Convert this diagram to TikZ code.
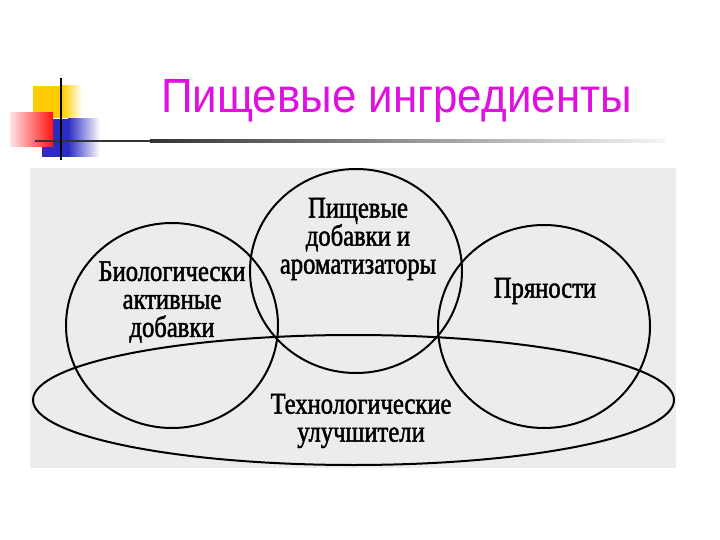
\documentclass[tikz,border=0pt]{standalone}
\usepackage{fontspec}
\setmainfont{Liberation Sans}
\newfontfamily\titlefont[FakeStretch=0.915]{Liberation Sans}
\newfontfamily\scanfont[FakeStretch=0.82,FakeBold=1.6]{Liberation Serif}
\usetikzlibrary{backgrounds}
\definecolor{titlemagenta}{RGB}{224,16,224}
\definecolor{decoyellow}{RGB}{255,204,0}
\definecolor{decored}{RGB}{255,20,20}
\definecolor{decoblue}{RGB}{44,44,196}
\definecolor{scangray}{RGB}{236,236,236}
\tikzset{
  venn/.style={line width=2pt},
  scanlabel/.style={font=\scanfont\fontsize{30}{28}\selectfont, align=center, inner sep=0pt},
}

\begin{document}
\begin{tikzpicture}[x=1pt,y=-1pt]
\useasboundingbox[fill=white] (0,0) rectangle (720,540);
% corner decoration
\fill[decoyellow] (33,86) rectangle (62,118);
\shade[left color=decoyellow,right color=white] (62,86) rectangle (82,118);
\fill[decoblue] (42,119) rectangle (68,157);
\shade[left color=decoblue,right color=white] (68,119) rectangle (100,157);
\shade[left color=decored!12,right color=decored] (10,113) rectangle (53,147);
\fill[black!80] (35,139.8) rectangle (150,142.2);
\shade[left color=black!80,right color=black!4] (150,139.8) rectangle (665,142.2);
\draw[line width=2pt] (61,78) -- (61,160);
\node[anchor=base, text=titlemagenta, font=\titlefont\fontsize{48}{50}\selectfont] (title) at (396.5,113) {Пищевые ингредиенты};

% scanned scheme
\fill[scangray] (30,168) rectangle (676,468);
\draw[venn] (172,325.5) ellipse [x radius=106, y radius=102.5];
\draw[venn] (356,271) ellipse [x radius=106, y radius=102];
\draw[venn] (544,326.5) ellipse [x radius=106, y radius=101.5];
\draw[venn] (353.5,400) ellipse [x radius=320.5, y radius=65];

\node[scanlabel] (additives) at (358,239) {Пищевые\\добавки и\\ароматизаторы};
\node[scanlabel] (bioactive) at (172,302) {Биологически\\активные\\добавки};
\node[scanlabel] (spices) at (545,291) {Пряности};
\node[scanlabel] (improvers) at (361,421) {Технологические\\улучшители};
\end{tikzpicture}
\end{document}
